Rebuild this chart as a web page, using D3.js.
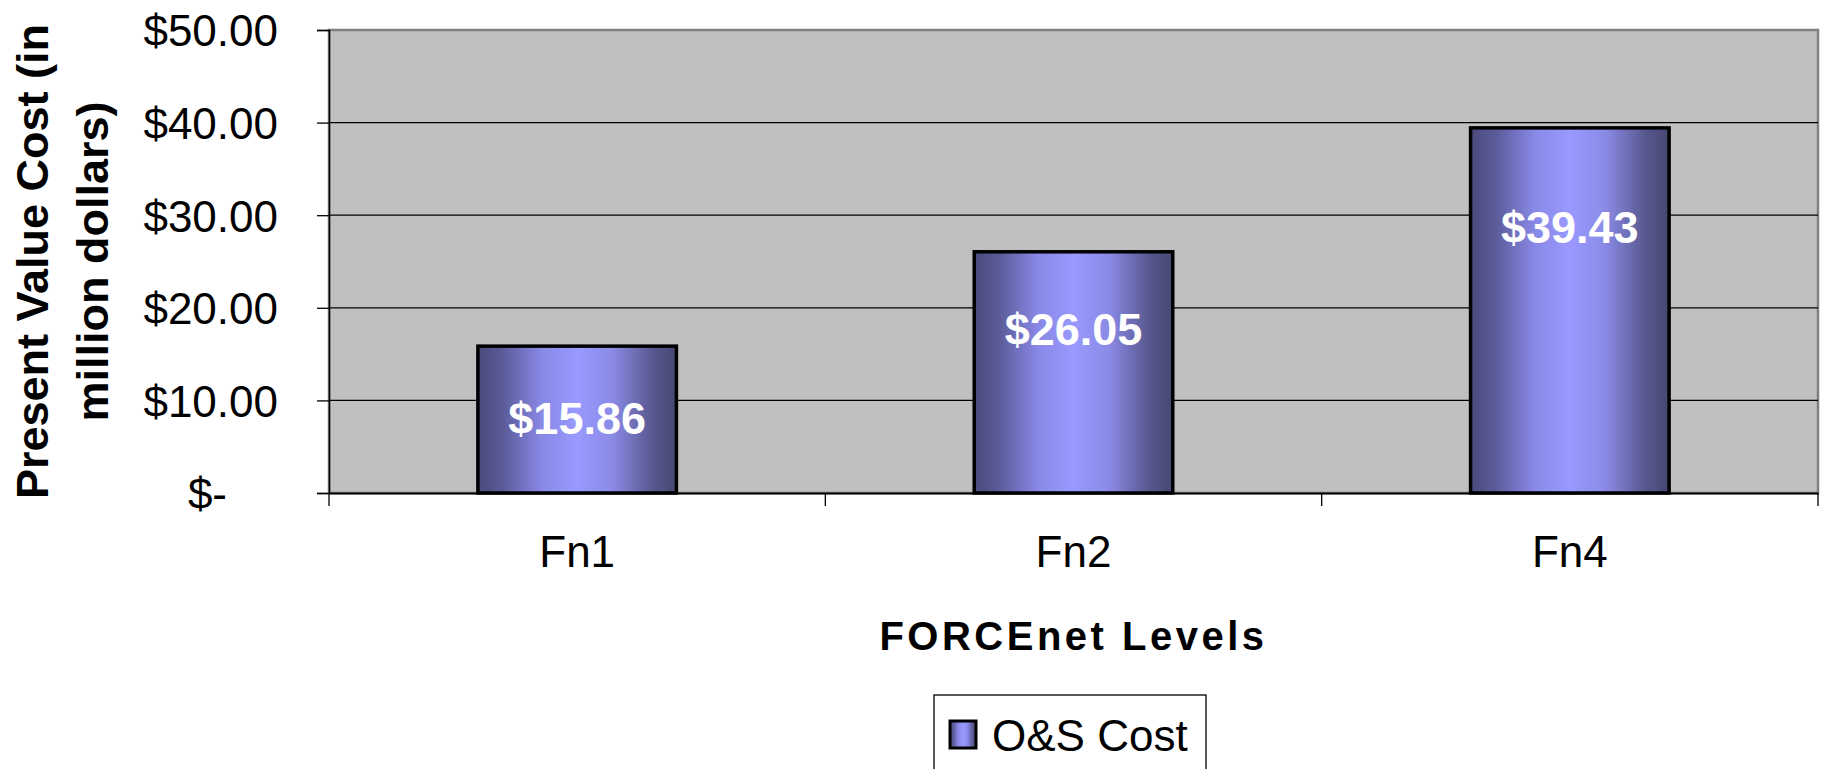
<!DOCTYPE html>
<html>
<head>
<meta charset="utf-8">
<script src="https://cdn.jsdelivr.net/npm/d3@7"></script>
<style>
  body { margin: 0; background: #fff; }
  svg { display: block; font-family: Arial, "Liberation Sans", sans-serif; }
</style>
</head>
<body>
<script>
// chart data
const levels = ["Fn1", "Fn2", "Fn4"];
const osCost = [15.86, 26.05, 39.43];
const yTicks = [0, 10, 20, 30, 40, 50];
const seriesName = "O&S Cost";

// label offsets below bar top (pixels), labels were hand placed in the original
const labelDy = [72, 77, 99];

const width = 1828, height = 769;
const plot = { left: 329, top: 30, right: 1818, bottom: 493 };

const svg = d3.select("body").append("svg")
    .attr("width", width)
    .attr("height", height);

const defs = svg.append("defs");
const grad = defs.append("linearGradient")
    .attr("id", "barGrad")
    .attr("x1", "0%").attr("x2", "100%").attr("y1", "0%").attr("y2", "0%");
[
    [0, "#4a4a7c"], [0.12, "#5a5a98"], [0.32, "#8888e6"], [0.5, "#9999ff"],
    [0.68, "#8a8ae6"], [0.88, "#58588f"], [1, "#474772"]
].forEach(s => grad.append("stop").attr("offset", s[0]).attr("stop-color", s[1]));

const x = d3.scaleBand()
    .domain(levels)
    .range([plot.left, plot.right])
    .paddingInner(0.6)
    .paddingOuter(0.3);

const y = d3.scaleLinear()
    .domain([0, 50])
    .range([plot.bottom, plot.top]);

// plot background
svg.append("rect")
    .attr("x", plot.left).attr("y", plot.top)
    .attr("width", plot.right - plot.left).attr("height", plot.bottom - plot.top)
    .attr("fill", "#c0c0c0")
    .attr("stroke", "#808080")
    .attr("stroke-width", 2.5);

// gridlines
svg.append("g")
    .selectAll("line")
    .data(yTicks.filter(d => d > 0 && d < 50))
    .join("line")
    .attr("x1", plot.left).attr("x2", plot.right)
    .attr("y1", d => y(d)).attr("y2", d => y(d))
    .attr("stroke", "#000")
    .attr("stroke-width", 1.3);

// y axis
const yAxis = svg.append("g")
    .attr("transform", `translate(${plot.left},0)`)
    .call(d3.axisLeft(y).tickValues(yTicks).tickSize(12).tickPadding(39)
        .tickFormat(d => d === 0 ? "$-" : "$" + d3.format(".2f")(d)));
yAxis.select(".domain").attr("stroke", "#000").attr("stroke-width", 1.5);
yAxis.selectAll(".tick line").attr("stroke", "#000").attr("stroke-width", 1.3);
yAxis.selectAll(".tick text")
    .attr("font-size", 44)
    .attr("fill", "#000")
    .attr("dy", "0.36em")
    .attr("dx", d => d === 0 ? -51 : 0);

// x axis with ticks between categories
const xAxis = svg.append("g")
    .attr("transform", `translate(0,${plot.bottom})`)
    .call(d3.axisBottom(x).tickSize(0).tickPadding(43));
xAxis.select(".domain").attr("stroke", "#000").attr("stroke-width", 2);
xAxis.selectAll(".tick text")
    .attr("font-size", 44)
    .attr("fill", "#000");
const bounds = levels.map(d => x(d) - x.step() * x.paddingInner() / 2);
bounds[0] = plot.left;
bounds.push(plot.right);
xAxis.selectAll("line.sep")
    .data(bounds)
    .join("line")
    .attr("class", "sep")
    .attr("x1", d => d).attr("x2", d => d)
    .attr("y1", 0).attr("y2", 13)
    .attr("stroke", "#000")
    .attr("stroke-width", 1.3);

// bars
svg.append("g")
    .selectAll("rect")
    .data(levels)
    .join("rect")
    .attr("x", d => x(d))
    .attr("y", (d, i) => y(osCost[i]))
    .attr("width", x.bandwidth())
    .attr("height", (d, i) => y(0) - y(osCost[i]))
    .attr("fill", "url(#barGrad)")
    .attr("stroke", "#000")
    .attr("stroke-width", 3.5);

// value labels
svg.append("g")
    .selectAll("text")
    .data(levels)
    .join("text")
    .attr("x", d => x(d) + x.bandwidth() / 2)
    .attr("y", (d, i) => y(osCost[i]) + labelDy[i])
    .attr("dy", "0.36em")
    .attr("text-anchor", "middle")
    .attr("font-size", 45)
    .attr("font-weight", "bold")
    .attr("fill", "#fff")
    .text((d, i) => "$" + d3.format(".2f")(osCost[i]));

// axis titles
svg.append("text")
    .attr("x", (plot.left + plot.right) / 2)
    .attr("y", 650)
    .attr("text-anchor", "middle")
    .attr("font-size", 40)
    .attr("font-weight", "bold")
    .attr("letter-spacing", 3.5)
    .text("FORCEnet Levels");

const yTitle = svg.append("text")
    .attr("transform", `translate(0,${(plot.top + plot.bottom) / 2}) rotate(-90)`)
    .attr("text-anchor", "middle")
    .attr("font-size", 45)
    .attr("font-weight", "bold");
yTitle.append("tspan").attr("x", 0).attr("y", 48).text("Present Value Cost (in");
yTitle.append("tspan").attr("x", 0).attr("y", 108).text("million dollars)");

// legend
const legend = svg.append("g").attr("transform", "translate(934,695)");
legend.append("rect")
    .attr("width", 272).attr("height", 90)
    .attr("fill", "#fff")
    .attr("stroke", "#000")
    .attr("stroke-width", 1.3);
legend.append("rect")
    .attr("x", 16).attr("y", 26)
    .attr("width", 26).attr("height", 27)
    .attr("fill", "url(#barGrad)")
    .attr("stroke", "#000")
    .attr("stroke-width", 3);
legend.append("text")
    .attr("x", 58).attr("y", 56)
    .attr("font-size", 44)
    .text(seriesName);
</script>
</body>
</html>
